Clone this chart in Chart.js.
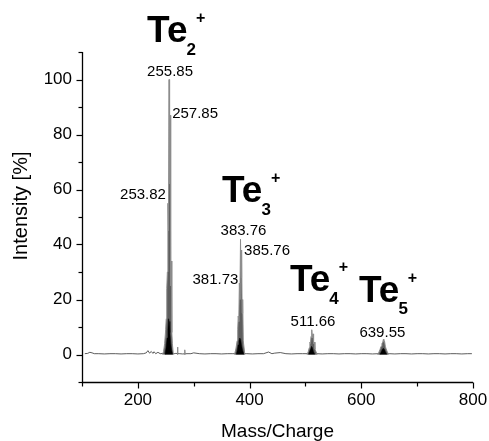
<!DOCTYPE html>
<html><head><meta charset="utf-8">
<script src="https://cdn.jsdelivr.net/npm/chart.js@4.4.0/dist/chart.umd.min.js"></script>
<style>html,body{margin:0;padding:0;background:#fff}#wrap{width:489px;height:441px}</style>
</head><body><div id="wrap"><canvas id="c" width="489" height="441"></canvas></div>
<script>
// ---- data ----
const noiseMz  = [105,110,114,118,122,130,140,150,160,170,180,190,200,210,215,218,221,224,227,229,232,236,240,245,265,268,275,280,288,295,300,310,320,330,340,350,360,370,395,405,415,425,434,440,445,455,465,475,485,495,505,520,530,540,550,560,570,580,590,600,610,620,630,650,660,670,680,690,700,710,720,730,740,750,760,770,780,790,798];
const noiseInt = [0.3,0.4,0.8,0.6,0.3,0.3,0.2,0.3,0.3,0.2,0.3,0.3,0.2,0.3,0.6,1.4,0.5,1.1,0.4,1.0,0.3,0.8,0.3,0.4,0.3,0.4,0.3,0.2,0.3,0.3,0.6,0.3,0.2,0.3,0.3,0.2,0.3,0.3,0.3,0.2,0.3,0.3,0.9,0.3,0.5,0.7,0.3,0.2,0.3,0.3,0.3,0.3,0.2,0.3,0.3,0.2,0.3,0.3,0.2,0.3,0.3,0.2,0.3,0.3,0.2,0.3,0.3,0.2,0.3,0.3,0.2,0.3,0.3,0.2,0.3,0.3,0.2,0.3,0.3];

const te2Mz  = [244,246,248,249.8,250.8,251.8,252.8,253.82,254.8,255.85,256.8,257.85,258.8,259.85,260.8,261.8,263.5];
const te2Int = [0,1,4,9,13,24,30,55,45,100,62,87,25,34,8,4,0];
const te3Mz  = [373,375.5,377.8,378.8,379.7,380.7,381.73,382.7,383.76,384.7,385.76,386.7,387.7,388.7,389.7,391.5];
const te3Int = [0,2,5,9,14,12,26,20,42,28,38,15,20,5,5,0];
const te4Mz  = [503,505,507,508,509,510,511,511.66,512.6,513.6,514.6,515.6,517,519,521];
const te4Int = [0,1,2.5,4.5,4,6.5,6,9,6,7.5,4,4.5,2,1,0];
const te5Mz  = [629,631.5,633.5,635.5,637,638.5,639.55,640.5,641.7,643,644.5,646.5,649];
const te5Int = [0,0.8,1.8,3,4,4.5,5.5,4.5,4.8,3,2,1,0];
const spikeAMz = [270.3,271,271.7], spikeAInt = [0,2.7,0];
const spikeBMz = [283.3,284,284.7], spikeBInt = [0,1.7,0];

const core2Mz = [248.5,250.5,252.3,253.8,255,256,257.3,258.8,260.5,262.5];
const core2Int = [0,2.5,6,9,13,12,8,4,1.5,0];
const core3Mz = [376,378,379.5,381,382.5,384,385.5,387.5,390];
const core3Int = [0,1.5,3.5,5,6,5.5,3.5,1.5,0];
const core4Mz = [505.5,507.5,509.5,511,512.5,514.5,517];
const core4Int = [0,1,2,3,2.5,1,0];
const core5Mz = [633,635.5,637.5,639.5,641.5,643.5,646];
const core5Int = [0,0.8,1.8,2.3,1.8,0.8,0];

const peakLabelText = ['255.85','257.85','253.82','383.76','385.76','381.73','511.66','639.55'];
const peakLabelMz   = [255.85,257.85,253.82,383.76,385.76,381.73,511.66,639.55];
const peakLabelInt  = [100,87,55,42,38,26,9,5.5];

const ionSymbol = ['Te','Te','Te','Te'];
const ionCount  = ['2','3','4','5'];
const ionCharge = ['+','+','+','+'];
const ionPeakMz  = [255.85,383.76,511.66,639.55];
const ionPeakInt = [100,42,9,5.5];

const yTicks = [-10,0,10,20,30,40,50,60,70,80,90,100,110];
const xTicks = [100,200,300,400,500,600,700,800];
const yTitle = 'Intensity [%]';
const xTitle = 'Mass/Charge';

// ---- helpers ----
const pts = (xs, ys) => xs.map((x, i) => ({x, y: ys[i]}));
const FONT = "'Liberation Sans', Arial, Helvetica, sans-serif";
Chart.defaults.font.family = FONT;
Chart.defaults.color = '#000';

const gray = (xs, ys) => ({data: pts(xs, ys), borderColor: '#8c8c8c', backgroundColor: '#5e5e5e', borderWidth: 1, fill: 'origin', pointRadius: 0, tension: 0, order: 2});
const black = (xs, ys) => ({data: pts(xs, ys), borderColor: '#000', backgroundColor: '#000', borderWidth: 0.5, fill: 'origin', pointRadius: 0, tension: 0, order: 1});

const annot = {
  id: 'annot',
  afterDraw(chart, args, opts) {
    const ctx = chart.ctx, xs = chart.scales.x, ys = chart.scales.y;
    const ca = chart.chartArea;
    ctx.save();
    ctx.strokeStyle = '#000'; ctx.lineWidth = 1.3;
    const L = ca.left + 0.5, B = ca.bottom + 0.5;
    ctx.beginPath();
    ctx.moveTo(L, ca.top); ctx.lineTo(L, B);
    ctx.lineTo(ca.right, B);
    ctx.stroke();
    ctx.lineWidth = 1.2;
    yTicks.forEach(v => {
      const p = Math.round(ys.getPixelForValue(v)) + 0.5;
      const len = v % 20 === 0 ? opts.majorLen : opts.minorLen;
      ctx.beginPath(); ctx.moveTo(L, p); ctx.lineTo(L - len, p); ctx.stroke();
    });
    xTicks.forEach(v => {
      const p = Math.round(xs.getPixelForValue(v)) + 0.5;
      const len = v % 200 === 0 ? opts.majorLen : opts.minorLen;
      ctx.beginPath(); ctx.moveTo(p, B); ctx.lineTo(p, B + len); ctx.stroke();
    });
    ctx.fillStyle = '#000';
    // y axis title
    ctx.save();
    ctx.font = opts.yTitleFont;
    ctx.textAlign = 'center'; ctx.textBaseline = 'middle';
    ctx.translate(opts.yTitleX, (ca.top + ca.bottom) / 2 + opts.yTitleShift);
    ctx.rotate(-Math.PI / 2);
    ctx.fillText(yTitle, 0, 0);
    ctx.restore();
    // peak labels
    ctx.font = opts.peakFont;
    ctx.textBaseline = 'alphabetic';
    peakLabelText.forEach((t, i) => {
      const st = opts.peakLayout[i];
      ctx.textAlign = st.align;
      ctx.fillText(t, xs.getPixelForValue(peakLabelMz[i]) + st.dx, ys.getPixelForValue(peakLabelInt[i]) + st.dy);
    });
    // ion labels
    ctx.textAlign = 'left';
    ionSymbol.forEach((s, i) => {
      const st = opts.ionLayout[i];
      const x0 = xs.getPixelForValue(ionPeakMz[i]) + st.dx;
      const y0 = ys.getPixelForValue(ionPeakInt[i]) + st.dy;
      ctx.font = opts.ionFont;
      ctx.fillText(s, x0, y0);
      const w = ctx.measureText(s).width;
      ctx.font = opts.subFont;
      const xs2 = x0 + w + opts.subGap;
      ctx.fillText(ionCount[i], xs2, y0 + opts.subDrop);
      const w2 = ctx.measureText(ionCount[i]).width;
      ctx.font = opts.supFont;
      ctx.fillText(ionCharge[i], xs2 + w2 + opts.supGap, y0 - opts.supRise);
    });
    ctx.restore();
  }
};

new Chart(document.getElementById('c'), {
  type: 'line',
  data: {
    datasets: [
      {data: pts(noiseMz, noiseInt), borderColor: '#333', borderWidth: 0.8, fill: false, pointRadius: 0, tension: 0, order: 3},
      gray(te2Mz, te2Int), gray(te3Mz, te3Int), gray(te4Mz, te4Int), gray(te5Mz, te5Int),
      gray(spikeAMz, spikeAInt), gray(spikeBMz, spikeBInt),
      black(core2Mz, core2Int), black(core3Mz, core3Int), black(core4Mz, core4Int), black(core5Mz, core5Int)
    ]
  },
  options: {
    responsive: false, animation: false,
    layout: {padding: {left: 0, right: 16, top: 52, bottom: 0}},
    plugins: {
      legend: {display: false}, tooltip: {enabled: false},
      annot: {
        majorLen: 6, minorLen: 4,
        yTitleFont: "20px " + FONT, yTitleX: 21, yTitleShift: -11,
        peakFont: "15px " + FONT,
        ionFont: "bold 37px " + FONT, subFont: "bold 17px " + FONT, supFont: "bold 16px " + FONT,
        subGap: -1, subDrop: 12.5, supGap: 0, supRise: 19,
        peakLayout: [
          {align: 'center', dx: 1, dy: -3.5},
          {align: 'left', dx: 2, dy: 3},
          {align: 'right', dx: -2, dy: -4},
          {align: 'center', dx: 3, dy: -4},
          {align: 'left', dx: 2.5, dy: 5},
          {align: 'right', dx: -1, dy: 0.5},
          {align: 'center', dx: 1, dy: -4},
          {align: 'center', dx: -1, dy: -2.5}
        ],
        ionLayout: [
          {dx: -22, dy: -37.5},
          {dx: -18.5, dy: -37},
          {dx: -22, dy: -38.75},
          {dx: -24.4, dy: -37.4}
        ]
      }
    },
    scales: {
      x: {
        type: 'linear', min: 100, max: 800,
        grid: {display: false, drawTicks: false}, border: {display: false},
        ticks: {stepSize: 100, padding: 8, font: {size: 17}, maxRotation: 0,
          callback: v => (v % 200 === 0 ? String(v) : '')},
        title: {display: true, text: xTitle, font: {size: 19, lineHeight: 1}, padding: {top: -2.5, bottom: 0}},
        afterFit: s => { s.height = 59; s.paddingLeft = 0; s.paddingRight = 0; }
      },
      y: {
        type: 'linear', min: -10, max: 110,
        grid: {display: false, drawTicks: false}, border: {display: false},
        ticks: {stepSize: 10, padding: 10, font: {size: 17},
          callback: v => (v % 20 === 0 ? String(v) : '')},
        title: {display: false},
        afterFit: s => { s.width = 82; s.paddingTop = 0; s.paddingBottom = 0; }
      }
    }
  },
  plugins: [annot]
});
</script></body></html>
